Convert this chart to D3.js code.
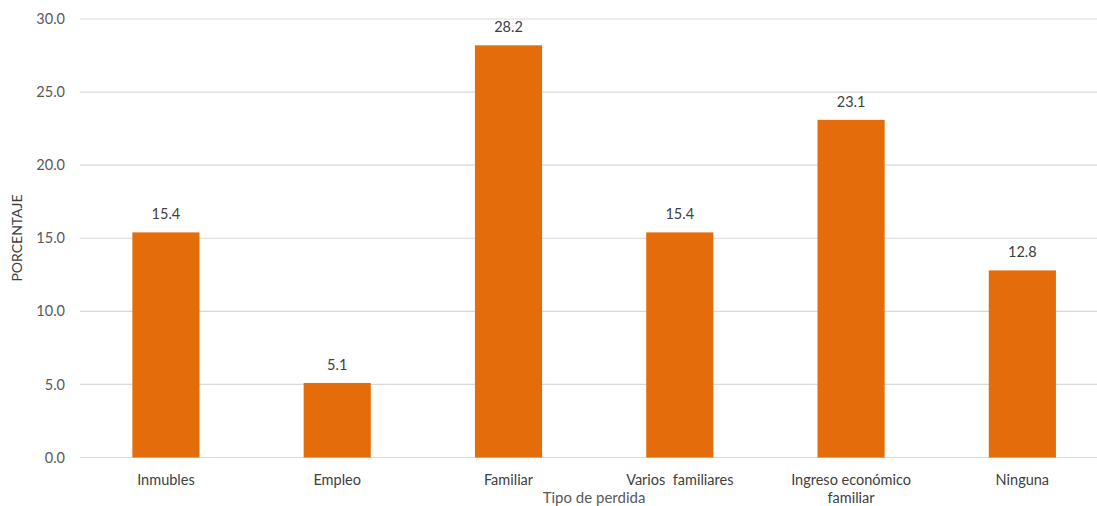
<!DOCTYPE html>
<html><head><meta charset="utf-8">
<script src="https://cdn.jsdelivr.net/npm/d3@7"></script>
<style>body{margin:0;background:#fff}svg{display:block}</style>
</head><body>
<svg id="c" width="1097" height="506"></svg>
<script>
const categories = ["Inmubles","Empleo","Familiar","Varios  familiares","Ingreso económico familiar","Ninguna"];
const values = [15.4,5.1,28.2,15.4,23.1,12.8];
const yTicks = [0,5,10,15,20,25,30];
const yTitle = "PORCENTAJE";
const xTitle = "Tipo de perdida";

const svg = d3.select("#c");
const font = "Lato, 'Open Sans', sans-serif";
const x = d3.scaleBand().domain(categories).range([80.3,1108]).paddingInner(0.608).paddingOuter(0.304);
const y = d3.scaleLinear().domain([0,30]).range([457.5,19]);

// gridlines
svg.append("g").selectAll("line").data(yTicks).join("line")
  .attr("x1",80).attr("x2",1097).attr("y1",d=>y(d)).attr("y2",d=>y(d))
  .attr("stroke","#d9d9d9").attr("stroke-width",1.2);

// y axis labels
const ya = svg.append("g").attr("transform","translate(65,0)")
  .call(d3.axisLeft(y).tickValues(yTicks).tickFormat(d3.format(".1f")).tickSize(0).tickPadding(0));
ya.select(".domain").remove();
ya.selectAll("text").attr("font-family",font).attr("font-size",14.5).attr("fill","#595959");

// bars
svg.append("g").selectAll("rect").data(values).join("rect")
  .attr("x",(d,i)=>x(categories[i])).attr("width",x.bandwidth())
  .attr("y",d=>y(d)).attr("height",d=>y(0)-y(d)).attr("fill","#E46C0A");

// data labels
svg.append("g").selectAll("text").data(values).join("text")
  .attr("x",(d,i)=>x(categories[i])+x.bandwidth()/2).attr("y",d=>y(d)-13)
  .attr("text-anchor","middle").attr("font-family",font).attr("font-size",14.5).attr("fill","#404040")
  .text(d=>d3.format(".1f")(d));

// x labels
const xa = svg.append("g").attr("transform","translate(0,"+y(0)+")")
  .call(d3.axisBottom(x).tickSize(0).tickPadding(0));
xa.select(".domain").remove();
xa.selectAll("text").remove();
const lines = {"Ingreso económico familiar":["Ingreso económico","familiar"]};
svg.append("g").selectAll("text").data(categories).join("text")
  .attr("x",d=>x(d)+x.bandwidth()/2).attr("y",485)
  .attr("text-anchor","middle").attr("font-family",font).attr("font-size",14.5).attr("fill","#404040")
  .each(function(d){
    const ls = lines[d]||[d];
    d3.select(this).selectAll("tspan").data(ls).join("tspan")
      .attr("x",x(d)+x.bandwidth()/2).attr("dy",(t,i)=>i?18:0).attr("xml:space","preserve").text(t=>t);
  });

// axis titles
svg.append("text").attr("x",594).attr("y",503).attr("text-anchor","middle")
  .attr("font-family",font).attr("font-size",15).attr("fill","#595959").text(xTitle);
svg.append("text").attr("transform","translate(22,238) rotate(-90)").attr("text-anchor","middle")
  .attr("font-family",font).attr("font-size",14).attr("fill","#404040").text(yTitle);
</script>
</body></html>
